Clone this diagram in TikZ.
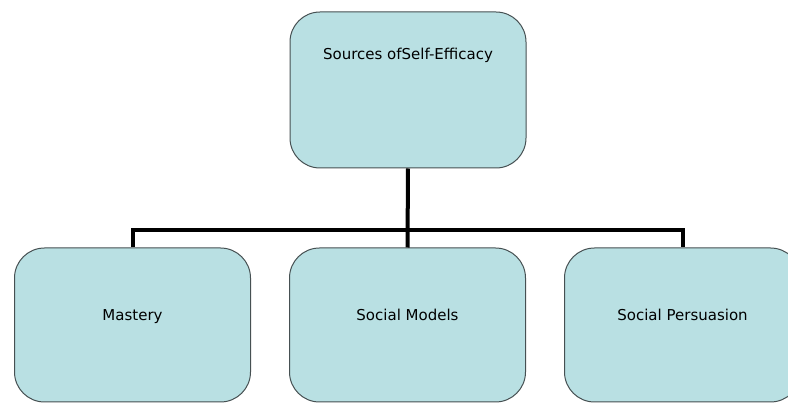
\documentclass[tikz,border=0pt]{standalone}
\usepackage{fontspec}
\setmainfont{DejaVu Sans}
\usetikzlibrary{calc, positioning}
\definecolor{boxfill}{RGB}{185,224,227}
\definecolor{boxline}{RGB}{70,80,82}

\begin{document}
\begin{tikzpicture}[x=1pt, y=-1pt, font=\fontsize{15}{18}\selectfont,
    srcbox/.style={draw=boxline, line width=1pt, fill=boxfill,
                   rounded corners=30pt, minimum width=236pt},
    srctext/.style={text height=1.5ex, text depth=.25ex},
    link/.style={line width=4pt, black}]
  \clip (0,0) rectangle (788,403);

  % top box, label sits near its upper edge
  \node[srcbox, minimum height=156pt] (sources) at (408,90) {};
  \node[srctext] (sourcestxt) at ($(sources.north)+(0,45)$) {Sources ofSelf-Efficacy};

  % the three sources
  \node[srcbox, minimum height=154pt] (mastery)    at (132.5,325) {};
  \node[srcbox, minimum height=154pt] (models)     at (407.5,325) {};
  \node[srcbox, minimum height=154pt] (persuasion) at (682.5,325) {};
  \node[srctext] (masterytxt)    at ($(mastery)+(0,-8)$)    {Mastery};
  \node[srctext] (modelstxt)     at ($(models)+(0,-8)$)     {Social Models};
  \node[srctext] (persuasiontxt) at ($(persuasion)+(0,-8)$) {Social Persuasion};

  % tree connectors
  \draw[link] (sources.south) -- (models.north);
  \draw[link] (mastery.north) -- ++(0,-17) -| (persuasion.north);
\end{tikzpicture}
\end{document}
